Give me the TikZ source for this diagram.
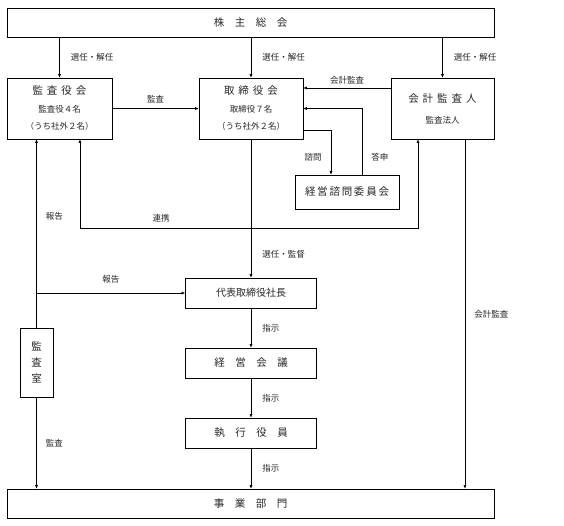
\documentclass[tikz,border=0pt]{standalone}
\usepackage{fontspec}
\setmainfont{Noto Sans CJK JP}
\usetikzlibrary{arrows.meta}
\newcommand\kg{\hspace{4pt}}
\tikzset{
  box/.style={draw, inner sep=0pt, font=\fontsize{10.5}{12}\selectfont},
  lbl/.style={inner sep=1pt, font=\fontsize{8.5}{10}\selectfont},
  >={Latex[length=3.5pt,width=3pt]}}

\begin{document}
\begin{tikzpicture}[x=1pt,y=-1pt,line width=0.6pt,text=black!85]
\useasboundingbox (0,0) rectangle (564,526);

% boxes
\node[box, minimum width=487pt, minimum height=29pt] (soukai) at (250.5,22.5) {株　主　総　会};
\node[box, minimum width=105pt, minimum height=61pt, align=center, font=\fontsize{8.5}{17.5}\selectfont] (kansayaku) at (59.5,108.5)
  {{\fontsize{10.5}{12}\selectfont 監\kg 査\kg 役\kg 会}\\監査役４名\\（うち社外２名）};
\node[box, minimum width=104pt, minimum height=61pt, align=center, font=\fontsize{8.5}{17.5}\selectfont] (torishimari) at (251,108.5)
  {{\fontsize{10.5}{12}\selectfont 取\kg 締\kg 役\kg 会}\\取締役７名\\（うち社外２名）};
\node[box, minimum width=103pt, minimum height=61pt, align=center, font=\fontsize{8.5}{21}\selectfont] (kaikei) at (442.5,108.5)
  {{\fontsize{10.5}{12}\selectfont 会\kg 計\kg 監\kg 査\kg 人}\\監査法人};
\node[box, minimum width=104pt, minimum height=34pt] (shimon) at (347,192) {経\,営\,諮\,問\,委\,員\,会};
\node[box, minimum width=131pt, minimum height=30pt, font=\fontsize{10}{12}\selectfont] (shacho) at (251,293) {代表取締役社長};
\node[box, minimum width=131pt, minimum height=30pt] (kaigi) at (251,363) {経　営　会　議};
\node[box, minimum width=131pt, minimum height=30pt] (shikko) at (251,433) {執　行　役　員};
\node[box, minimum width=487pt, minimum height=29pt] (jigyo) at (250.5,503.5) {事　業　部　門};
\node[box, minimum width=33pt, minimum height=69pt, align=center, font=\fontsize{10.5}{16}\selectfont] (shitsu) at (36.5,362.5) {監\\査\\室};

\coordinate (renkeiA) at ([xshift=20.5pt]kansayaku.south);
\coordinate (renkeiB) at ([xshift=-24.5pt]kaikei.south);
\coordinate (kaikeiC) at ([xshift=22.5pt]kaikei.south);

% connectors
\draw[->] (kansayaku |- soukai.south) -- (kansayaku.north) node[lbl, midway, right=10pt] (sennin1) {選任・解任};
\draw[->] (torishimari |- soukai.south) -- (torishimari.north) node[lbl, midway, right=10pt] (sennin2) {選任・解任};
\draw[->] (kaikei |- soukai.south) -- (kaikei.north) node[lbl, midway, right=10pt] (sennin3) {選任・解任};
\draw[->] (kansayaku.east) -- (torishimari.west) node[lbl, midway, above=4pt] (kansa1) {監査};
\draw[->] ([yshift=20.5pt]kaikei.west) -- ([yshift=20.5pt]torishimari.east) node[lbl, midway, above=2pt] (kaikeikansa1) {会計監査};
\draw[->] ([xshift=15pt]shimon.north) |- (torishimari.east) node[lbl, pos=0.13, right=8pt] (toushin) {答申};
\draw[->] ([yshift=-22pt]torishimari.east) -| ([xshift=-16pt]shimon.north) node[lbl, pos=0.8, left=8pt] (shimonL) {諮問};
\draw[<->] (renkeiA) -- ++(0,89) -| (renkeiB) node[lbl, pos=0.12, above=5pt] (renkei) {連携};
\draw[->] (shitsu.north) -- (shitsu.north |- kansayaku.south) node[lbl, pos=0.59, right=8pt] (houkoku1) {報告};
\draw[->] (shitsu |- shacho.west) -- (shacho.west) node[lbl, midway, above=8pt] (houkoku2) {報告};
\draw[->] (torishimari.south) -- (shacho.north) node[lbl, pos=0.83, right=10pt] (kantoku) {選任・監督};
\draw[->] (shacho.south) -- (kaigi.north) node[lbl, midway, right=10pt] (shiji1) {指示};
\draw[->] (kaigi.south) -- (shikko.north) node[lbl, midway, right=10pt] (shiji2) {指示};
\draw[->] (shikko.south) -- (shikko |- jigyo.north) node[lbl, midway, right=10pt] (shiji3) {指示};
\draw[->] (shitsu.south) -- (shitsu |- jigyo.north) node[lbl, midway, right=8pt] (kansa2) {監査};
\draw[->] (kaikeiC) -- (kaikeiC |- jigyo.north) node[lbl, midway, right=8pt] (kaikeikansa2) {会計監査};

\end{tikzpicture}
\end{document}
